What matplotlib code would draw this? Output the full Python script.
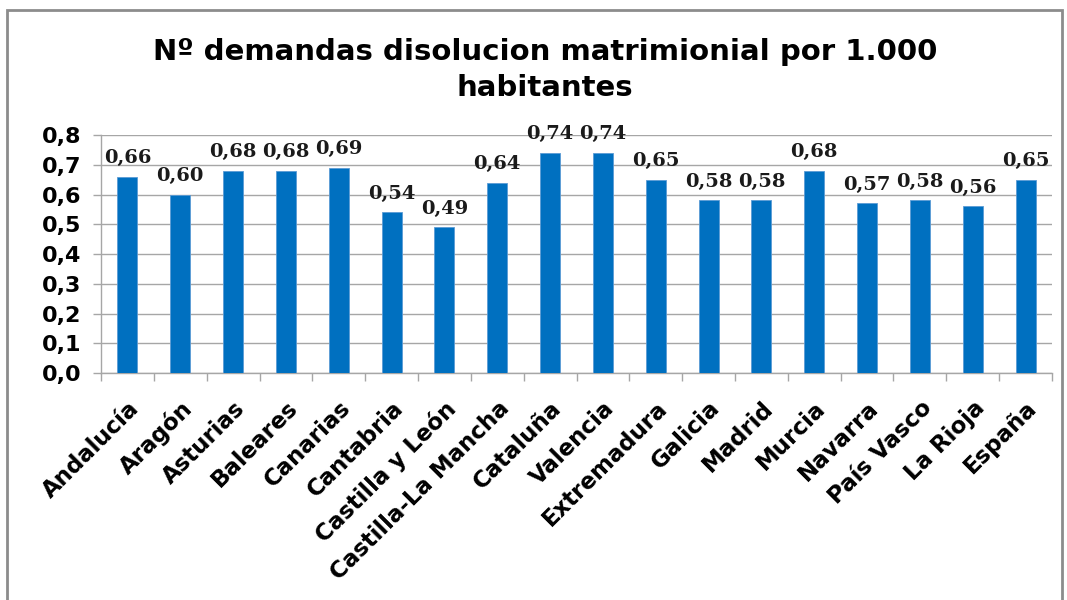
import matplotlib.pyplot as plt
import matplotlib.patches as patches
import numpy as np

regiones = ['Andalucía', 'Aragón', 'Asturias', 'Baleares', 'Canarias', 'Cantabria',
            'Castilla y León', 'Castilla-La Mancha', 'Cataluña', 'Valencia',
            'Extremadura', 'Galicia', 'Madrid', 'Murcia', 'Navarra', 'País Vasco',
            'La Rioja', 'España']
demandas = [0.66, 0.60, 0.68, 0.68, 0.69, 0.54, 0.49, 0.64, 0.74, 0.74,
            0.65, 0.58, 0.58, 0.68, 0.57, 0.58, 0.56, 0.65]
yticks = [0.0, 0.1, 0.2, 0.3, 0.4, 0.5, 0.6, 0.7, 0.8]

plt.rcParams['font.family'] = ['DejaVu Sans']

fig = plt.figure(figsize=(10.67, 6), dpi=100)
# marco exterior del grafico
fig.patches.append(patches.Rectangle((7 / 1067, -0.05), 1055 / 1067, 1 - 10 / 600 + 0.05,
                                     transform=fig.transFigure, fill=False,
                                     edgecolor='#8c8c8c', linewidth=2))

ax = fig.add_axes([101 / 1067, 1 - 373 / 600, (1052 - 101) / 1067, (373 - 135) / 600])
x = np.arange(len(regiones))
ax.bar(x, demandas, width=0.38, color='#0070C0', edgecolor='#5b9bd5', linewidth=0.6, zorder=3)

for xi, v in zip(x, demandas):
    ax.annotate('{:.2f}'.format(v).replace('.', ','), (xi, v), xytext=(0, 7),
                textcoords='offset points', ha='center', va='bottom',
                fontsize=14, fontweight='bold', family='DejaVu Serif',
                color='#1a1a1a', zorder=4)

ax.set_xlim(-0.5, len(regiones) - 0.5)
ax.set_ylim(0, 0.8)
ax.set_yticks(yticks)
ax.set_yticklabels(['{:.1f}'.format(t).replace('.', ',') for t in yticks],
                   fontsize=16, fontweight='bold')
ax.yaxis.grid(True, color='#a6a6a6', linewidth=1, zorder=0)

ax.set_xticks(x)
ax.set_xticklabels(regiones, rotation=45, ha='right', rotation_mode='anchor',
                   fontsize=16.5, fontweight='bold')
ax.tick_params(axis='x', which='major', length=0, pad=17)
ax.set_xticks(np.arange(-0.5, len(regiones)), minor=True)
ax.tick_params(axis='x', which='minor', length=6, color='#a6a6a6', width=1)
ax.tick_params(axis='y', length=6, color='#a6a6a6', width=1, pad=8)

for s in ['top', 'right']:
    ax.spines[s].set_visible(False)
for s in ['left', 'bottom']:
    ax.spines[s].set_color('#a6a6a6')
    ax.spines[s].set_linewidth(1)

fig.text(545 / 1067, 1 - 70 / 600, 'Nº demandas disolucion matrimionial por 1.000\nhabitantes',
         ha='center', va='center', fontsize=21, fontweight='bold', linespacing=1.4)

fig.savefig('out.png', dpi=100)
